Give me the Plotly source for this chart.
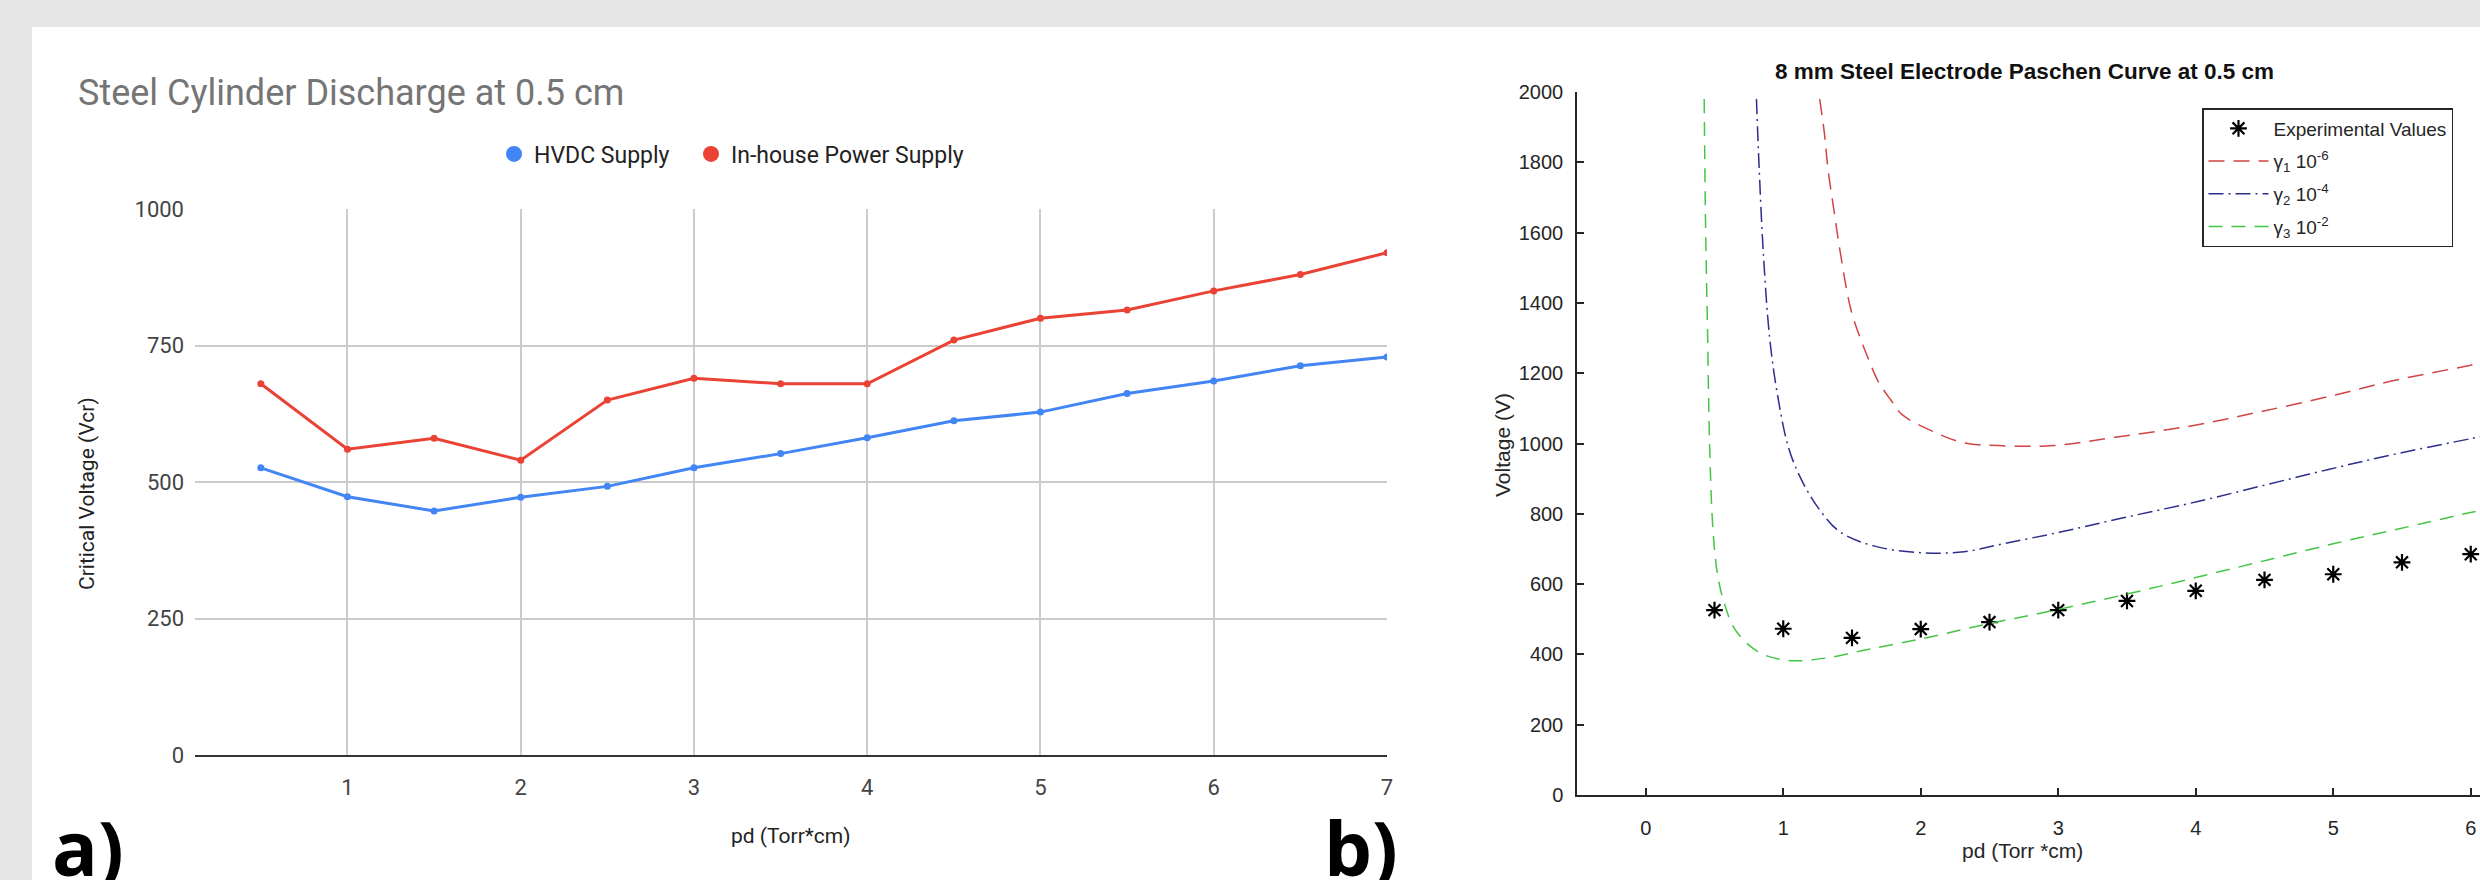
import plotly.graph_objects as go

W, H = 2480, 880

# ---------------- data ----------------
pd_values = [0.5, 1, 1.5, 2, 2.5, 3, 3.5, 4, 4.5, 5, 5.5, 6, 6.5, 7]
hvdc_supply = [526, 473, 447, 472, 492, 526, 552, 581, 612, 628, 662, 685, 713, 729]
inhouse_supply = [680, 560, 580, 540, 650, 690, 680, 680, 760, 800, 815, 850, 880, 920]

# Paschen curves read from panel b)
g1_pd = [1.265, 1.30, 1.325, 1.37, 1.415, 1.49, 1.555, 1.62, 1.69, 1.78, 1.865, 2.09, 2.315, 2.565,
         2.965, 3.415, 3.965, 4.465, 5.015, 5.415, 5.99, 6.1]
g1_v = [1980, 1880, 1782, 1660, 1543, 1384, 1305, 1240, 1177, 1125, 1082, 1034, 1002, 994,
        994, 1018, 1050, 1090, 1138, 1177, 1222, 1231]

g2_pd = [0.805, 0.825, 0.855, 0.90, 0.955, 1.04, 1.14, 1.265, 1.415, 1.665, 2.015, 2.315, 2.615,
         3.015, 3.465, 4.015, 4.515, 4.965, 5.415, 5.99, 6.1]
g2_v = [1980, 1782, 1543, 1305, 1146, 986, 891, 811, 748, 708, 689, 692, 716,
        748, 788, 835, 883, 926, 967, 1013, 1022]

g3_pd = [0.425, 0.435, 0.45, 0.465, 0.49, 0.525, 0.575, 0.64, 0.74, 0.865, 1.065, 1.315, 1.615,
         2.015, 2.465, 2.965, 3.515, 4.015, 4.515, 5.015, 5.465, 5.99, 6.1]
g3_v = [1980, 1623, 1305, 986, 748, 620, 541, 477, 430, 398, 382, 390, 414,
        445, 485, 525, 573, 620, 668, 716, 756, 803, 812]

left_xticks = [1, 2, 3, 4, 5, 6, 7]
left_yticks = [0, 250, 500, 750, 1000]
right_xticks = [0, 1, 2, 3, 4, 5, 6]
right_yticks = [0, 200, 400, 600, 800, 1000, 1200, 1400, 1600, 1800, 2000]

# ---------------- helpers ----------------
def fx(p):
    return p / W

def fy(p):
    return 1 - p / H

ROBOTO = "Roboto"
HELV = "Liberation Sans"

fig = go.Figure()

# ---- panel a) ----
fig.add_trace(go.Scatter(x=pd_values, y=hvdc_supply, mode="lines+markers",
                         line=dict(color="#4285f4", width=3), marker=dict(size=7, color="#4285f4"),
                         showlegend=False, xaxis="x", yaxis="y"))
fig.add_trace(go.Scatter(x=pd_values, y=inhouse_supply, mode="lines+markers",
                         line=dict(color="#ea4335", width=3), marker=dict(size=7, color="#ea4335"),
                         showlegend=False, xaxis="x", yaxis="y"))
fig.add_trace(go.Scatter(x=[None], y=[None], mode="markers", name="HVDC Supply",
                         marker=dict(size=20, color="#4285f4"), legend="legend", xaxis="x", yaxis="y"))
fig.add_trace(go.Scatter(x=[None], y=[None], mode="markers", name="In-house Power Supply",
                         marker=dict(size=20, color="#ea4335"), legend="legend3", xaxis="x", yaxis="y"))

# ---- panel b) ----
fig.add_trace(go.Scatter(x=pd_values, y=hvdc_supply, mode="markers", name="Experimental Values",
                         marker=dict(symbol="asterisk-open", size=14, line=dict(width=2.2, color="black"), color="black"),
                         legend="legend2", legendgroup="a", xaxis="x2", yaxis="y2"))
fig.add_trace(go.Scatter(x=g1_pd, y=g1_v, mode="lines", name="γ<sub>1</sub> 10<sup>-6</sup>",
                         line=dict(color="#d04545", width=1.5, dash="16px,9px", shape="spline"),
                         legend="legend2", legendgroup="b", xaxis="x2", yaxis="y2"))
fig.add_trace(go.Scatter(x=g2_pd, y=g2_v, mode="lines", name="γ<sub>2</sub> 10<sup>-4</sup>",
                         line=dict(color="#2e2e8c", width=1.5, dash="15px,5px,2px,5px", shape="spline"),
                         legend="legend2", legendgroup="c", xaxis="x2", yaxis="y2"))
fig.add_trace(go.Scatter(x=g3_pd, y=g3_v, mode="lines", name="γ<sub>3</sub> 10<sup>-2</sup>",
                         line=dict(color="#45c545", width=1.5, dash="14px,9px", shape="spline"),
                         legend="legend2", legendgroup="d", xaxis="x2", yaxis="y2"))

x2_right = -0.5 + (2480 - 1577) / 137.5

def ann(text, x, y, font, angle=0, xanchor="center", yanchor="middle"):
    return dict(text=text, x=fx(x), y=fy(y), xref="paper", yref="paper", xanchor=xanchor,
                yanchor=yanchor, showarrow=False, textangle=angle, font=font)

leg_common = dict(orientation="h", yanchor="middle", xanchor="left",
                  font=dict(family=ROBOTO, size=23, color="#222222"), bgcolor="rgba(0,0,0,0)",
                  itemsizing="trace")

fig.update_layout(
    width=W, height=H,
    margin=dict(l=0, r=0, t=0, b=0, pad=0, autoexpand=False),
    paper_bgcolor="#e6e6e6",
    plot_bgcolor="rgba(0,0,0,0)",
    xaxis=dict(domain=[fx(195), fx(1387)], range=[0.12, 7], tickvals=left_xticks,
               showgrid=True, gridcolor="#cccccc", gridwidth=1.5, zeroline=False,
               showline=True, linecolor="#333333", linewidth=2, ticks="",
               ticklabelstandoff=12, tickfont=dict(family=ROBOTO, size=22, color="#444444"),
               anchor="y", automargin=False),
    yaxis=dict(domain=[fy(755), fy(209)], range=[0, 1000], tickvals=left_yticks,
               showgrid=True, gridcolor="#cccccc", gridwidth=1.5, zeroline=False,
               showline=False, ticks="", ticklabelstandoff=10,
               tickfont=dict(family=ROBOTO, size=22, color="#444444"), anchor="x", automargin=False),
    xaxis2=dict(domain=[fx(1577), 1], range=[-0.5, x2_right], tickvals=right_xticks,
                showgrid=False, zeroline=False, showline=True, linecolor="#262626", linewidth=1.5,
                ticks="inside", ticklen=7, tickwidth=1.5, tickcolor="#262626", ticklabelstandoff=14,
                tickfont=dict(family=HELV, size=20, color="#262626"), anchor="y2", automargin=False),
    yaxis2=dict(domain=[fy(795), fy(92)], range=[0, 2000], tickvals=right_yticks,
                showgrid=False, zeroline=False, showline=True, linecolor="#262626", linewidth=1.5,
                ticks="inside", ticklen=7, tickwidth=1.5, tickcolor="#262626", ticklabelstandoff=8,
                tickfont=dict(family=HELV, size=20, color="#262626"), anchor="x2", automargin=False),
    legend=dict(x=fx(494), y=fy(154), **leg_common),
    legend3=dict(x=fx(691), y=fy(154), **leg_common),
    legend2=dict(x=fx(2202), y=fy(108), xanchor="left", yanchor="top",
                 font=dict(family=HELV, size=19, color="#262626"), bgcolor="white",
                 bordercolor="#262626", borderwidth=1.5, tracegroupgap=5, traceorder="grouped",
                 itemwidth=60),
    shapes=[dict(type="rect", xref="paper", yref="paper", x0=fx(32), x1=1, y0=0, y1=fy(27),
                 fillcolor="white", line=dict(width=0), layer="below")],
    annotations=[
        ann("Steel Cylinder Discharge at 0.5 cm", 76, 93,
            dict(family=ROBOTO, size=36, color="#757575"), xanchor="left"),
        ann("Critical Voltage (Vcr)", 87, 494, dict(family=ROBOTO, size=21, color="#222222"), angle=-90),
        ann("pd (Torr*cm)", 791, 836, dict(family=ROBOTO, size=21, color="#222222")),
        ann("8 mm Steel Electrode Paschen Curve at 0.5 cm", 2024, 71,
            dict(family=HELV, size=22.5, color="#111111", weight="bold")),
        ann("Voltage (V)", 1502, 445, dict(family=HELV, size=21, color="#262626"), angle=-90),
        ann("pd (Torr *cm)", 2023, 850, dict(family=HELV, size=21, color="#262626")),
        ann("<b>a)</b>", 50, 846, dict(family="Open Sans", size=76, color="black"), xanchor="left"),
        ann("<b>b)</b>", 1322, 846, dict(family="Open Sans", size=76, color="black"), xanchor="left"),
    ],
)

fig.write_html("out.html", config={"displayModeBar": False},
               post_script="document.body.style.margin='0';document.body.style.overflow='hidden';")
